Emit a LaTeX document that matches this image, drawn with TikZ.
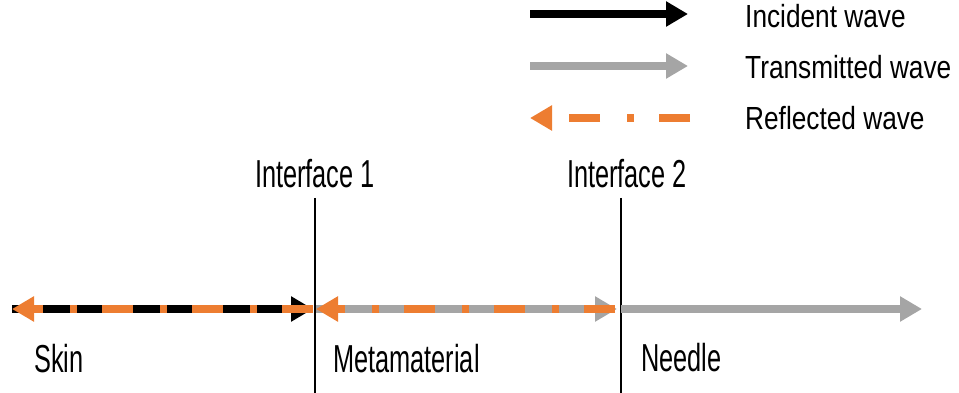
\documentclass[tikz,border=0pt]{standalone}
\usepackage{fontspec}
\setmainfont{Liberation Sans}
\newfontfamily\legfont[FakeStretch=0.82]{Liberation Sans}
\newfontfamily\bodyfont[FakeStretch=0.65]{Liberation Sans}
\usetikzlibrary{arrows.meta}
\definecolor{wgray}{HTML}{A5A5A5}
\definecolor{worange}{HTML}{ED7D31}
\tikzset{
  wave/.style={line width=8pt},
  headR/.style={-{Triangle[length=22pt,width=24pt]}},
  inc/.style={wave, black, headR},
  trans/.style={wave, wgray, headR},
  refl/.style={wave, worange, headR, dash pattern=on 31pt off 25pt on 7pt off 27pt},
  leglabel/.style={inner sep=0pt, anchor=base west, font=\legfont\fontsize{32}{36}\selectfont},
  label/.style={inner sep=0pt, font=\bodyfont\fontsize{39}{44}\selectfont},
  iface/.style={line width=2pt, black}
}
\begin{document}
\begin{tikzpicture}[x=1pt,y=-1pt]
\useasboundingbox (0,0) rectangle (959,393);
% legend
\coordinate (l1a) at (530,14); \coordinate (l1b) at (688,14);
\coordinate (l2a) at (530,66); \coordinate (l2b) at (688,66);
\coordinate (l3a) at (690,118); \coordinate (l3b) at (530,118);
\draw[inc] (l1a) -- (l1b);
\draw[trans] (l2a) -- (l2b);
\draw[refl] (l3a) -- (l3b);
\node[leglabel] (t1) at (745,28) {Incident wave};
\node[leglabel] (t2) at (745,79) {Transmitted wave};
\node[leglabel] (t3) at (745,130) {Reflected wave};
% interfaces
\node[label, anchor=base] (if1lab) at (315,188) {Interface 1};
\node[label, anchor=base] (if2lab) at (627,188) {Interface 2};
\coordinate (if1top) at (315,198); \coordinate (if1bot) at (315,393);
\coordinate (if2top) at (621,198); \coordinate (if2bot) at (621,393);
\draw[iface] (if1top) -- (if1bot);
\draw[iface] (if2top) -- (if2bot);
% main waves
\coordinate (skinL) at (12,309);
\coordinate (i1L) at (313,309);
\coordinate (i1R) at (316,309);
\coordinate (i2L) at (617,309);
\coordinate (i2o) at (615,309);
\coordinate (i2R) at (621,309);
\coordinate (needR) at (922,309);
\draw[inc] (skinL) -- (i1L);
\draw[refl] (i1L) -- (skinL);
\draw[trans] (i1R) -- (i2L);
\draw[refl] (i2o) -- (i1R);
\draw[trans] (i2R) -- (needR);
% region labels
\node[label, anchor=base west] (skin) at (34,372) {Skin};
\node[label, anchor=base west] (meta) at (333,372) {Metamaterial};
\node[label, anchor=base west] (needle) at (641,371) {Needle};
\end{tikzpicture}
\end{document}
